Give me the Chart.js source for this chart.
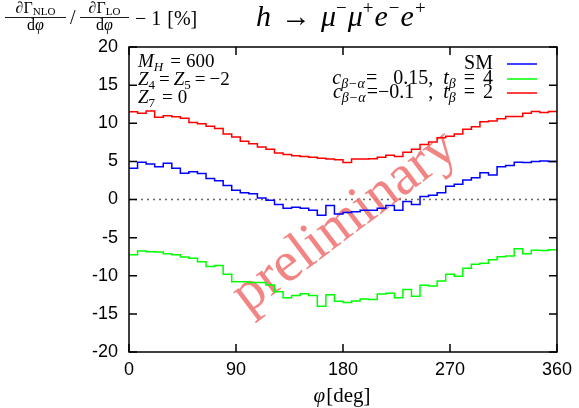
<!DOCTYPE html>
<html>
<head>
<meta charset="utf-8">
<script src="https://cdn.jsdelivr.net/npm/chart.js@4.4.1/dist/chart.umd.min.js"></script>
<style>
  html, body { margin: 0; padding: 0; background: #fff; }
  #wrap { width: 579px; height: 408px; }
</style>
</head>
<body>
<div id="wrap"><canvas id="grafico" width="579" height="408"></canvas></div>
<script>
// Valores por bin (50 bins de 0 a 360 grados)
const valoresSM = [
  4.1, 4.9, 4.65, 4.3, 4.75, 4.1, 3.45, 3.65, 3.4, 2.75,
  2.45, 1.85, 1.2, 0.9, 0.75, 0.2, -0.1, -0.65, -1.15, -1.0,
  -1.15, -1.4, -2.05, -0.8, -1.9, -1.7, -1.6, -1.4, -1.4, -1.15,
  -0.8, -1.4, -0.25, -0.65, 0.4, 0.55, 0.9, 1.75, 2.0, 2.55,
  2.85, 3.5, 3.2, 4.3, 4.45, 4.9, 4.85, 5.0, 5.05, 5.0
];
const valoresVerde = [
  -7.25, -6.75, -6.85, -6.9, -7.1, -7.25, -7.55, -7.7, -8.15, -8.8,
  -8.65, -9.8, -10.8, -10.8, -10.9, -10.9, -11.2, -12.1, -12.9, -12.6,
  -12.35, -12.6, -14.0, -12.5, -13.35, -13.5, -13.3, -13.05, -13.1, -12.4,
  -12.3, -12.9, -11.8, -12.7, -11.25, -11.35, -10.7, -9.8, -10.05, -9.0,
  -8.5, -8.35, -7.9, -7.5, -7.4, -6.45, -7.1, -6.65, -6.7, -6.6
];
const valoresRojo = [
  11.5, 11.3, 11.6, 10.8, 11.0, 10.85, 10.65, 10.1, 9.95, 9.6,
  9.3, 8.6, 8.2, 7.65, 7.3, 6.9, 6.6, 6.1, 5.9, 5.75,
  5.65, 5.55, 5.4, 5.3, 5.2, 4.85, 5.3, 5.3, 5.35, 5.55,
  5.8, 5.65, 6.2, 6.6, 7.2, 7.55, 8.1, 8.3, 8.6, 9.2,
  9.55, 10.2, 10.3, 10.6, 10.9, 10.9, 11.3, 11.55, 11.4, 11.55
];
const ticksX = [0, 90, 180, 270, 360];
const ticksY = [-20, -15, -10, -5, 0, 5, 10, 15, 20];

const SERIF = "'Liberation Serif', serif";
const phiMax = 360;
const anchoBin = phiMax / valoresSM.length;

// Convierte valores de bins en puntos escalonados (borde izquierdo de cada bin)
const aEscalones = (valores) => {
  const pts = valores.map((v, i) => ({ x: i * anchoBin, y: v }));
  pts.push({ x: phiMax, y: valores[valores.length - 1] });
  return pts;
};

// Dibuja una secuencia de trozos de texto con distintas fuentes
function dibujarTrozos(ctx, trozos, x, y, alinear) {
  let total = 0;
  trozos.forEach(t => { ctx.font = t.f; total += ctx.measureText(t.t).width + (t.sp || 0); });
  let cx = alinear === "right" ? x - total : alinear === "center" ? x - total / 2 : x;
  ctx.textAlign = "left";
  ctx.textBaseline = "alphabetic";
  trozos.forEach(t => {
    ctx.font = t.f;
    ctx.fillText(t.t, cx, y + (t.dy || 0));
    cx += ctx.measureText(t.t).width + (t.sp || 0);
  });
  return total;
}

const f = (px, it) => `${it ? "italic " : ""}${px}px ${SERIF}`;

const pluginDecoracion = {
  id: "decoracion",
  beforeDatasetsDraw(chart) {
    const { ctx, chartArea, scales } = chart;
    ctx.save();
    // linea de cero punteada
    ctx.strokeStyle = "#666";
    ctx.lineWidth = 1.3;
    ctx.setLineDash([2, 4]);
    const y0 = scales.y.getPixelForValue(0);
    ctx.beginPath();
    ctx.moveTo(chartArea.left, y0);
    ctx.lineTo(chartArea.right, y0);
    ctx.stroke();
    ctx.setLineDash([]);
    // marca de agua
    ctx.translate(345, 222);
    ctx.rotate(-37 * Math.PI / 180);
    ctx.font = f(57);
    ctx.fillStyle = "rgba(240, 110, 110, 0.85)";
    ctx.textAlign = "center";
    ctx.textBaseline = "middle";
    ctx.fillText("preliminary", 0, 0);
    ctx.restore();
  },
  afterDraw(chart) {
    const { ctx, chartArea: a, scales } = chart;
    ctx.save();
    // marco y ticks interiores
    ctx.strokeStyle = "#000";
    ctx.lineWidth = 1.5;
    ctx.strokeRect(a.left, a.top, a.right - a.left, a.bottom - a.top);
    ctx.beginPath();
    ticksX.forEach(v => {
      const px = scales.x.getPixelForValue(v);
      ctx.moveTo(px, a.bottom); ctx.lineTo(px, a.bottom - 8);
      ctx.moveTo(px, a.top); ctx.lineTo(px, a.top + 8);
    });
    ticksY.forEach(v => {
      const py = scales.y.getPixelForValue(v);
      ctx.moveTo(a.left, py); ctx.lineTo(a.left + 8, py);
      ctx.moveTo(a.right, py); ctx.lineTo(a.right - 8, py);
    });
    ctx.stroke();

    ctx.fillStyle = "#000";
    ctx.lineWidth = 0.9;
    // titulo izquierdo: fracciones
    const fraccion = (sub, x0, x1) => {
      const c = (x0 + x1) / 2;
      dibujarTrozos(ctx, [{ t: "∂Γ", f: f(16) }, { t: sub, f: f(11), dy: 2 }], c, 13, "center");
      ctx.beginPath(); ctx.moveTo(x0, 17.5); ctx.lineTo(x1, 17.5); ctx.stroke();
      dibujarTrozos(ctx, [{ t: "d", f: f(16) }, { t: "φ", f: f(16, true) }], c, 30, "center");
    };
    fraccion("NLO", 5, 66);
    ctx.font = f(20);
    ctx.fillText("/", 70, 24);
    fraccion("LO", 80, 129);
    dibujarTrozos(ctx, [{ t: "−", f: f(20), sp: 5 }, { t: "1", f: f(20), sp: 6 }, { t: "[%]", f: f(20) }], 135, 25);

    // titulo derecho
    const sup = (t) => ({ t, f: f(19), dy: -12, sp: 1 });
    dibujarTrozos(ctx, [
      { t: "h", f: f(30, true), sp: 10 },
      { t: "→", f: f(30), sp: 10 },
      { t: "μ", f: f(30, true) }, sup("−"),
      { t: "μ", f: f(30, true) }, sup("+"),
      { t: "e", f: f(30, true), sp: 1 }, sup("−"),
      { t: "e", f: f(30, true), sp: 1 }, sup("+")
    ], 256, 26);

    // bloque de parametros
    const igual = (t, sp) => ({ t, f: f(19), sp: sp == null ? 4 : sp });
    dibujarTrozos(ctx, [{ t: "M", f: f(19, true) }, { t: "H", f: f(13, true), dy: 4, sp: 7 }, igual("=", 5), { t: "600", f: f(19) }], 138, 67);
    dibujarTrozos(ctx, [
      { t: "Z", f: f(19, true) }, { t: "4", f: f(13), dy: 4, sp: 4 }, igual("="),
      { t: "Z", f: f(19, true) }, { t: "5", f: f(13), dy: 4, sp: 4 }, igual("="),
      { t: "−2", f: f(19) }
    ], 138, 85);
    dibujarTrozos(ctx, [{ t: "Z", f: f(19, true) }, { t: "7", f: f(13), dy: 4, sp: 7 }, igual("=", 5), { t: "0", f: f(19) }], 138, 103);

    // leyenda
    const sub = (t, sp) => ({ t, f: f(14, true), dy: 4, sp: sp || 0 });
    const leyenda = [
      { color: "#0000ff", y: 64, trozos: [{ t: "SM", f: f(20) }] },
      { color: "#00ff00", y: 79, trozos: [
        { t: "c", f: f(20, true) }, sub("β−α", 1), { t: "=", f: f(20), sp: 16 },
        { t: "0.15,", f: f(20), sp: 10 }, { t: "t", f: f(20, true) }, sub("β", 8),
        { t: "=", f: f(20), sp: 8 }, { t: "4", f: f(20) }] },
      { color: "#ff0000", y: 93, trozos: [
        { t: "c", f: f(20, true) }, sub("β−α", 1), { t: "=−0.1", f: f(20), sp: 14 },
        { t: ",", f: f(20), sp: 10 }, { t: "t", f: f(20, true) }, sub("β", 8),
        { t: "=", f: f(20), sp: 8 }, { t: "2", f: f(20) }] }
    ];
    leyenda.forEach(e => {
      ctx.fillStyle = "#000";
      dibujarTrozos(ctx, e.trozos, 493, e.y + 5, "right");
      ctx.strokeStyle = e.color;
      ctx.lineWidth = 1.5;
      ctx.beginPath(); ctx.moveTo(507, e.y); ctx.lineTo(537, e.y); ctx.stroke();
    });

    // titulo del eje x
    ctx.fillStyle = "#000";
    dibujarTrozos(ctx, [{ t: "φ", f: f(21, true), sp: 1 }, { t: "[deg]", f: f(21) }], 342, 402, "center");
    ctx.restore();
  }
};

const serie = (valores, color) => ({
  data: aEscalones(valores),
  borderColor: color,
  borderWidth: 1.5,
  stepped: "before",
  pointRadius: 0,
  fill: false,
  tension: 0
});

const ctx = document.getElementById("grafico").getContext("2d");
const grafico = new Chart(ctx, {
  type: "line",
  data: {
    datasets: [
      serie(valoresSM, "#0000ff"),
      serie(valoresVerde, "#00ff00"),
      serie(valoresRojo, "#ff0000")
    ]
  },
  options: {
    responsive: false,
    animation: false,
    devicePixelRatio: 1,
    layout: { padding: { left: 0, right: 21, top: 47, bottom: 0 } },
    plugins: { legend: { display: false }, tooltip: { enabled: false } },
    scales: {
      x: {
        type: "linear",
        min: 0, max: phiMax,
        afterBuildTicks: (s) => { s.ticks = ticksX.map(v => ({ value: v })); },
        ticks: { color: "#000", font: { family: "'Liberation Sans', sans-serif", size: 18 }, padding: 7, maxRotation: 0 },
        grid: { display: false, drawTicks: false },
        border: { display: false },
        afterFit: (s) => { s.height = 56; }
      },
      y: {
        min: -20, max: 20,
        afterBuildTicks: (s) => { s.ticks = ticksY.map(v => ({ value: v })); },
        ticks: { color: "#000", font: { family: "'Liberation Sans', sans-serif", size: 18 }, padding: 11 },
        grid: { display: false, drawTicks: false },
        border: { display: false },
        afterFit: (s) => { s.width = 129; }
      }
    }
  },
  plugins: [pluginDecoracion]
});
</script>
</body>
</html>
